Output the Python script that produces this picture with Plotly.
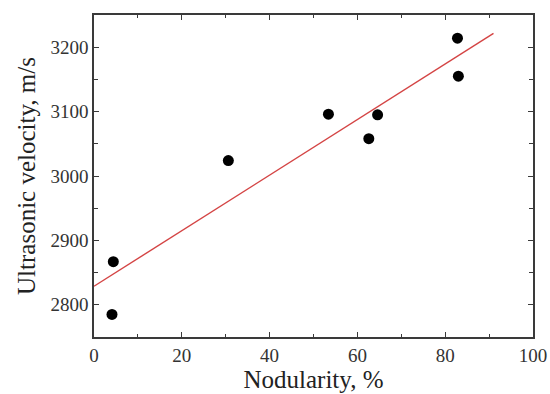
import numpy as np
import plotly.graph_objects as go

nodularity = [4.4, 4.1, 30.6, 53.4, 64.6, 62.6, 82.8, 83.0]
velocity = [2867, 2785, 3024, 3096, 3095, 3058, 3214, 3155]
fit_x_range = [0, 91]
x_ticks = [0, 20, 40, 60, 80, 100]
y_ticks = [2800, 2900, 3000, 3100, 3200]

slope, intercept = np.polyfit(nodularity, velocity, 1)
fit_x = np.array(fit_x_range, dtype=float)
fit_y = slope * fit_x + intercept

font_family = "Liberation Serif, Times New Roman, serif"
axis_color = "#3a3a3a"

fig = go.Figure()
fig.add_trace(go.Scatter(x=fit_x, y=fit_y, mode="lines",
                         line=dict(color="#d44444", width=1.4),
                         showlegend=False, hoverinfo="skip"))
fig.add_trace(go.Scatter(x=nodularity, y=velocity, mode="markers",
                         marker=dict(color="black", size=11),
                         showlegend=False))

common = dict(showgrid=False, zeroline=False, showline=True, linecolor=axis_color,
              linewidth=1.5, mirror="ticks", ticks="inside", ticklen=5,
              tickwidth=1.2, tickcolor=axis_color, automargin=False,
              tickfont=dict(family=font_family, size=19, color="#333333"))

fig.update_xaxes(range=[0, 100], tickvals=x_ticks,
                 minor=dict(dtick=10, ticks="inside", ticklen=3, tickcolor=axis_color, tickwidth=1.2),
                 title=dict(text="Nodularity, %", font=dict(family=font_family, size=25, color="#222222"),
                            standoff=6),
                 **common)
fig.update_yaxes(range=[2750, 3250], tickvals=y_ticks,
                 minor=dict(dtick=50, ticks="inside", ticklen=4, tickcolor=axis_color, tickwidth=1.2),
                 title=dict(text="Ultrasonic velocity, m/s", font=dict(family=font_family, size=25, color="#222222"),
                            standoff=8),
                 **common)

fig.update_layout(width=550, height=394, margin=dict(l=94, r=17, t=15, b=57),
                  plot_bgcolor="white", paper_bgcolor="white")

fig.write_html("out.html", config={"displayModeBar": False},
               post_script="document.body.style.margin='0';document.body.style.overflow='hidden';")
